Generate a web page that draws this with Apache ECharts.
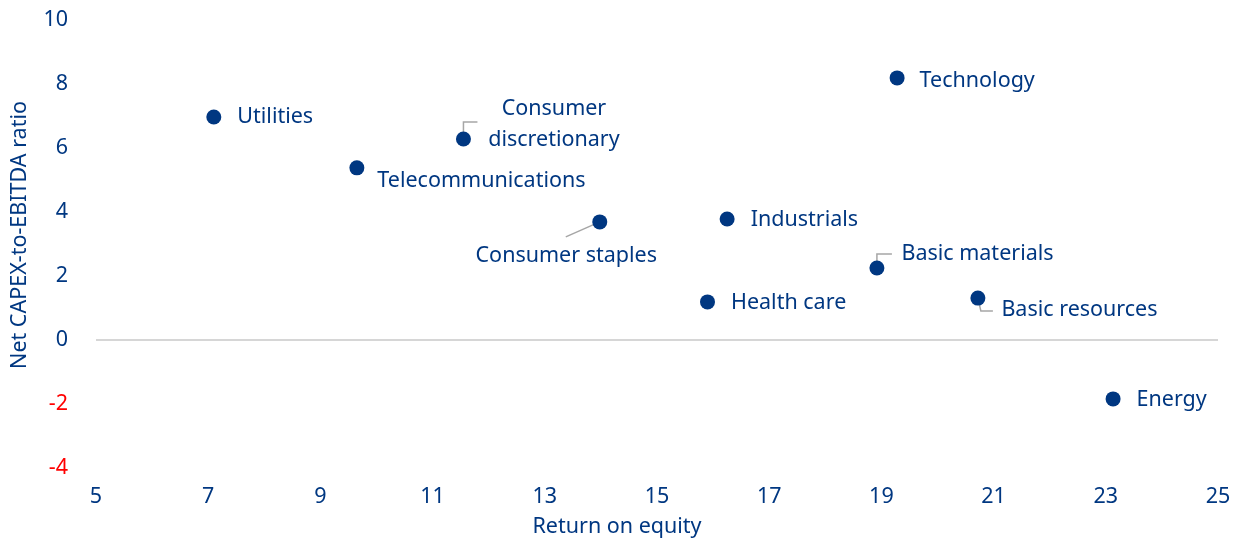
<!DOCTYPE html>
<html>
<head>
<meta charset="utf-8">
<script src="https://cdn.jsdelivr.net/npm/echarts@6/dist/echarts.min.js"></script>
<style>
  html, body { margin: 0; padding: 0; background: #fff; }
  #chart { width: 1237px; height: 543px; }
</style>
</head>
<body>
<div id="chart"></div>
<script>
  // Data
  const sectors = ['Utilities', 'Telecommunications', 'Consumer\ndiscretionary', 'Consumer staples', 'Industrials',
    'Health care', 'Technology', 'Basic materials', 'Basic resources', 'Energy']
  const roe = [7.1, 9.65, 11.55, 13.98, 16.25, 15.9, 19.28, 18.92, 20.72, 23.13]
  const capexRatio = [6.97, 5.38, 6.28, 3.69, 3.78, 1.19, 8.19, 2.25, 1.31, -1.84]
  const xTicks = [5, 7, 9, 11, 13, 15, 17, 19, 21, 23, 25]
  const yTicks = [-4, -2, 0, 2, 4, 6, 8, 10]

  const BLUE = '#003781'
  const FONT = 'Noto Sans'
  const FS = 21.5

  // label placement tweaks (px), by sector index
  const labelOffsets = {
    1: { offset: [-3, 13] },
    2: { offset: [67, -15], align: 'center' },
    3: { offset: [-57, 34], align: 'center' },
    4: { offset: [0, 1] },
    5: { offset: [0, 1] },
    6: { offset: [-1, 3] },
    7: { offset: [1, -14] },
    8: { offset: [0, 12] },
    9: { offset: [0, 1] },
  }
  // leader lines (px relative to the dot)
  const leaders = {
    2: [[0, 0], [0, -17], [14, -17]],
    3: [[0, 0], [-34, 15]],
    7: [[0, 0], [0, -14], [15, -14]],
    8: [[0, 0], [3, 13], [15, 13]],
  }

  const points = sectors.map((name, i) => {
    const lo = labelOffsets[i] || {}
    return {
      name,
      value: [roe[i], capexRatio[i]],
      label: { offset: lo.offset || [0, 0], align: lo.align || 'left' },
    }
  })

  const chart = echarts.init(document.getElementById('chart'))
  chart.setOption({
    animation: false,
    textStyle: { fontFamily: FONT },
    grid: { left: 96, right: 19, top: 20, bottom: 75, containLabel: false },
    xAxis: {
      type: 'value', min: xTicks[0], max: xTicks[xTicks.length - 1], interval: 2,
      name: 'Return on equity', nameLocation: 'middle', nameGap: 48,
      nameTextStyle: { color: BLUE, fontSize: FS, fontFamily: FONT, padding: [0, 80, 0, 0] },
      axisLine: { show: false }, axisTick: { show: false }, splitLine: { show: false },
      axisLabel: { color: BLUE, fontSize: FS, fontFamily: FONT, margin: 18 },
    },
    yAxis: {
      type: 'value', min: yTicks[0], max: yTicks[yTicks.length - 1], interval: 2,
      name: 'Net CAPEX-to-EBITDA ratio', nameLocation: 'middle', nameGap: 65, nameRotate: 90,
      nameTextStyle: { color: BLUE, fontSize: FS, fontFamily: FONT, padding: [0, 0, 0, 18] },
      axisLine: { show: false }, axisTick: { show: false }, splitLine: { show: false },
      axisLabel: {
        color: v => (v < 0 ? '#ff0000' : BLUE), fontSize: FS, fontFamily: FONT, margin: 28,
      },
    },
    series: [
      {
        type: 'scatter',
        symbolSize: 15,
        itemStyle: { color: BLUE, opacity: 1 },
        data: points,
        label: {
          show: true, position: 'right', distance: 16,
          formatter: p => p.name,
          color: BLUE, fontSize: FS, fontFamily: FONT, lineHeight: 31,
        },
        markLine: {
          silent: true, symbol: 'none', label: { show: false },
          lineStyle: { color: '#d6d6d6', width: 2, type: 'solid' },
          data: [{ yAxis: 0 }],
        },
        z: 3,
      },
      {
        type: 'custom',
        silent: true,
        z: 2,
        data: Object.keys(leaders).map(k => [roe[k], capexRatio[k], +k]),
        renderItem: (params, api) => {
          const c = api.coord([api.value(0), api.value(1)])
          const pts = leaders[api.value(2)].map(([dx, dy]) => [c[0] + dx, c[1] + dy])
          return {
            type: 'polyline',
            shape: { points: pts },
            style: { stroke: '#a6a6a6', lineWidth: 1.5, fill: null },
          }
        },
      },
    ],
  })
</script>
</body>
</html>
